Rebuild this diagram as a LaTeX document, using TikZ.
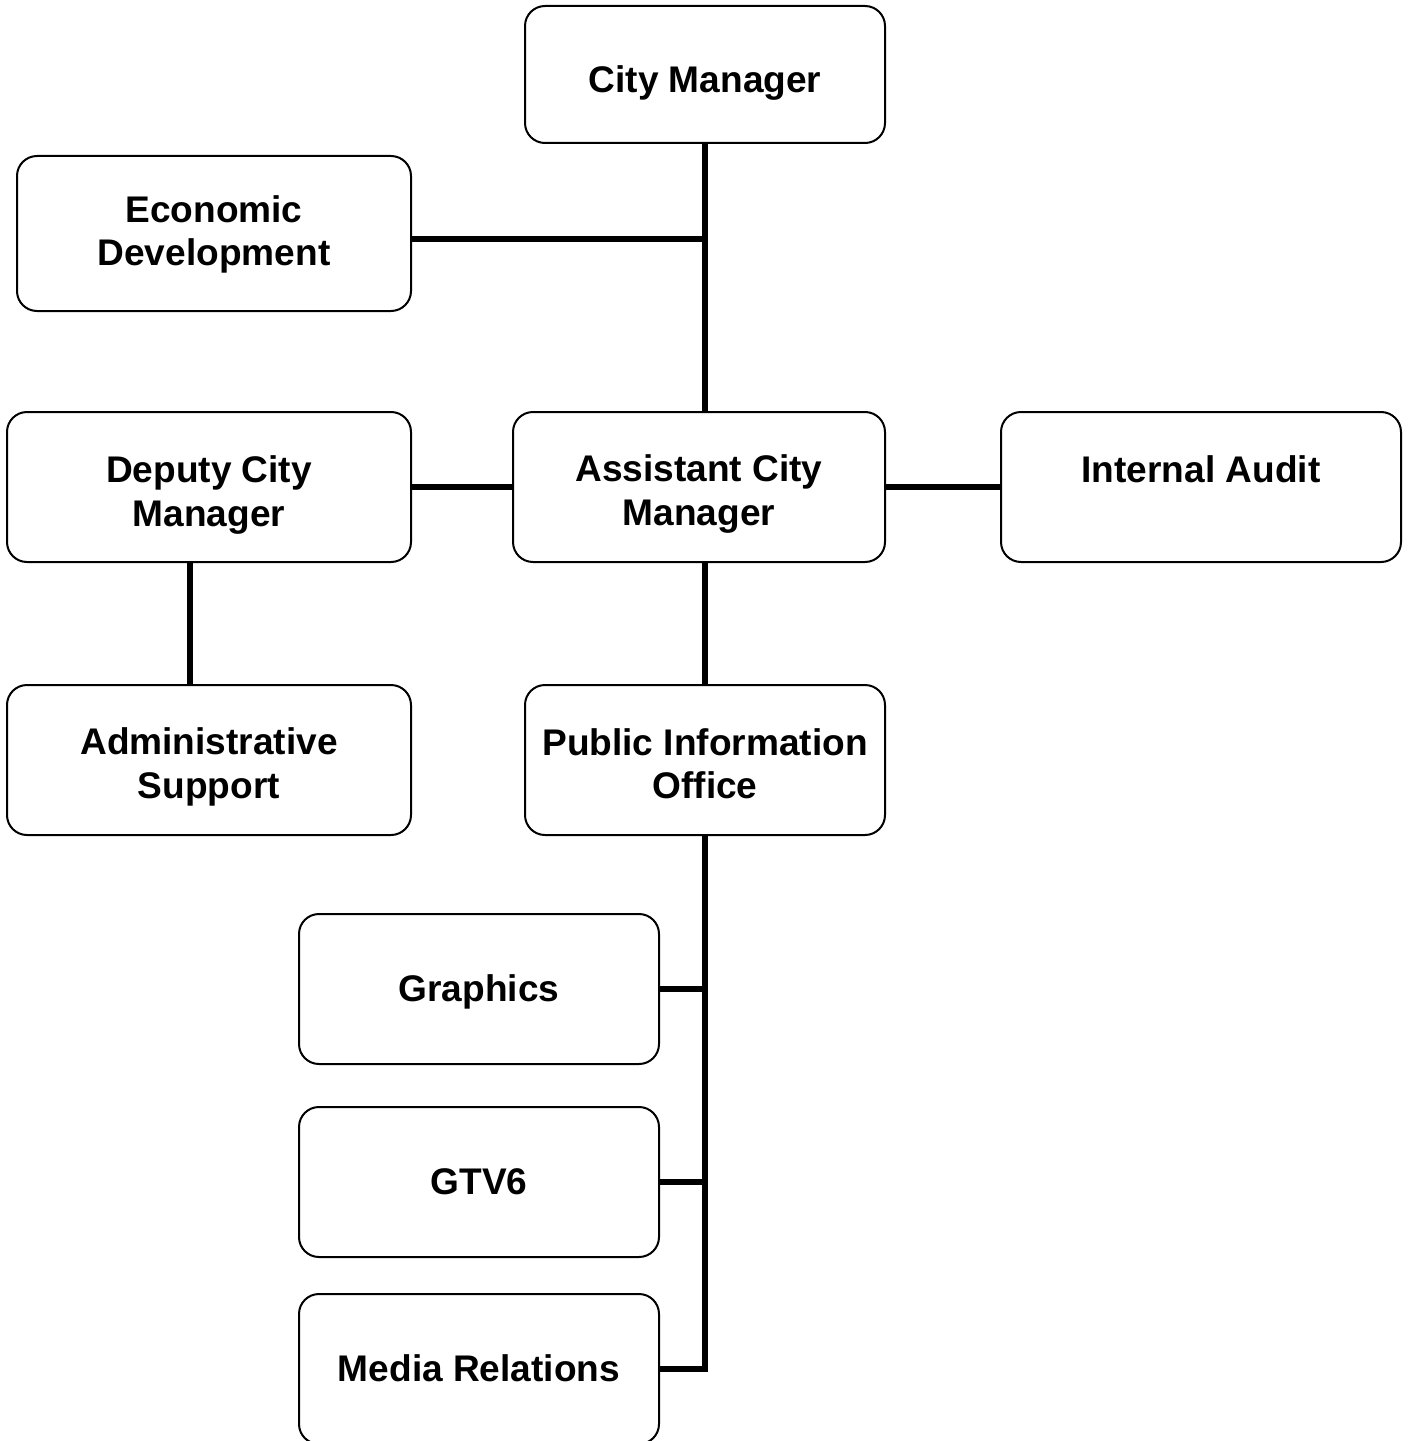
\documentclass[tikz,border=0pt]{standalone}
\usepackage{fontspec}
\setmainfont{Liberation Sans}
\begin{document}
\begin{tikzpicture}[x=0.75pt,y=-0.75pt,
  orgbox/.style={draw=black, line width=1.5pt, rounded corners=15pt, fill=white, inner sep=0pt},
  lbl/.style={align=center, inner sep=0pt, font=\fontsize{27.8}{32.5}\selectfont\bfseries},
  link/.style={line width=4pt, line cap=butt}]
\useasboundingbox (0,0) rectangle (1407,1441);
\clip (0,0) rectangle (1407,1441);
\fill[white] (0,0) rectangle (1407,1441);
% boxes
\node[orgbox, minimum width=270pt, minimum height=102.75pt] (cm) at (705,74.5) {};
\node[orgbox, minimum width=295.5pt, minimum height=116.25pt] (ed) at (214,233.5) {};
\node[orgbox, minimum width=303pt, minimum height=112.5pt] (dcm) at (209,487) {};
\node[orgbox, minimum width=279pt, minimum height=112.5pt] (acm) at (699,487) {};
\node[orgbox, minimum width=300pt, minimum height=112.5pt] (ia) at (1201,487) {};
\node[orgbox, minimum width=303pt, minimum height=112.5pt] (as) at (209,760) {};
\node[orgbox, minimum width=270pt, minimum height=112.5pt] (pio) at (705,760) {};
\node[orgbox, minimum width=270pt, minimum height=112.5pt] (gr) at (479,989) {};
\node[orgbox, minimum width=270pt, minimum height=112.5pt] (gtv) at (479,1182) {};
\node[orgbox, minimum width=270pt, minimum height=112.5pt] (mr) at (479,1369) {};
% texts
\node[lbl, yshift=-6pt] (tcm) at (cm.center) {City Manager};
\node[lbl, yshift=-0.75pt] (ted) at (ed.center) {Economic\\Development};
\node[lbl, yshift=-6pt] (tdcm) at (dcm.center) {Deputy City\\Manager};
\node[lbl, yshift=-5.25pt] (tacm) at (acm.center) {Assistant City\\Manager};
\node[lbl, yshift=13.5pt] (tia) at (ia.center) {Internal Audit};
\node[lbl, yshift=-5.25pt] (tas) at (as.center) {Administrative\\Support};
\node[lbl, yshift=-3pt] (tpio) at (pio.center) {Public Information\\Office};
\node[lbl, yshift=-2.25pt] (tgr) at (gr.center) {Graphics};
\node[lbl] (tgtv) at (gtv.center) {GTV6};
\node[lbl, yshift=0.75pt] (tmr) at (mr.center) {Media Relations};
% connectors
\coordinate (j1) at (705,239);
\draw[link] (cm.south) -- (acm.north -| cm.south);
\draw[link] (ed.east |- j1) -- (j1);
\draw[link] (dcm.east) -- (acm.west);
\draw[link] (acm.east) -- (ia.west);
\draw[link] (dcm.south -| 190,0) -- (as.north -| 190,0);
\draw[link] (acm.south -| pio.south) -- (pio.north);
\draw[link] (pio.south) -- (pio.south |- mr.east) -- (mr.east);
\draw[link] (gr.east) -- (gr.east -| pio.south);
\draw[link] (gtv.east) -- (gtv.east -| pio.south);
\end{tikzpicture}
\end{document}
